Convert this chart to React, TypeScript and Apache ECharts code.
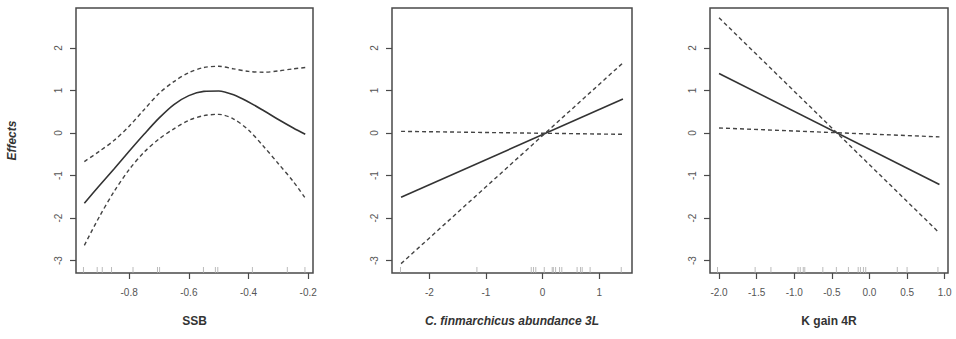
import React, { useEffect, useRef } from "react";
import * as echarts from "echarts";

// Panel 1: SSB
const ssbX = [-0.95, -0.9, -0.85, -0.8, -0.75, -0.7, -0.65, -0.6, -0.55, -0.5, -0.45, -0.4, -0.35, -0.3, -0.25, -0.21];
const ssbFit = [-1.65, -1.24, -0.84, -0.43, -0.03, 0.35, 0.67, 0.88, 0.98, 0.99, 0.9, 0.73, 0.53, 0.32, 0.12, -0.03];
const ssbUpper = [-0.67, -0.43, -0.17, 0.16, 0.55, 0.93, 1.21, 1.42, 1.54, 1.57, 1.51, 1.45, 1.43, 1.46, 1.51, 1.54];
const ssbLower = [-2.64, -1.97, -1.37, -0.86, -0.45, -0.14, 0.1, 0.3, 0.41, 0.44, 0.33, 0.07, -0.31, -0.72, -1.14, -1.53];
const ssbRug = [-0.953, -0.907, -0.89, -0.859, -0.787, -0.705, -0.698, -0.551, -0.511, -0.503, -0.387, -0.27, -0.211];
const ssbTicks = [-0.8, -0.6, -0.4, -0.2];

// Panel 2: C. finmarchicus abundance 3L
const calX = [-2.5, 1.42];
const calFit = [-1.51, 0.8];
const calUpper = [-3.07, 1.65];
const calLower = [0.04, -0.03];
const calRug = [-2.51, -1.16, -0.2, -0.16, -0.12, 0.03, 0.17, 0.19, 0.23, 0.3, 0.34, 0.61, 0.67, 0.7, 0.84, 1.39];
const calTicks = [-2, -1, 0, 1];

// Panel 3: K gain 4R
const kX = [-2.0, 0.93];
const kFit = [1.4, -1.21];
const kUpper = [2.71, -2.35];
const kLower = [0.12, -0.09];
const kRug = [-2.02, -1.52, -1.31, -0.95, -0.92, -0.88, -0.86, -0.62, -0.44, -0.28, -0.15, -0.12, -0.08, -0.05, 0.37, 0.5, 0.91];
const kTicks = [-2.0, -1.5, -1.0, -0.5, 0.0, 0.5, 1.0];

const yTicks = [-3, -2, -1, 0, 1, 2];
const yMin = -3.29;
const yMax = 2.94;

const FONT = "Liberation Sans, Arial, sans-serif";
const FRAME = "#4a4a4a";
const LABEL = "#555";

function pairs(xs: number[], ys: number[]) {
  return xs.map((x, i) => [x, ys[i]]);
}

export default function App() {
  const ref = useRef<HTMLDivElement>(null);
  useEffect(() => {
    if (!ref.current) return;
    const chart = echarts.init(ref.current, undefined, { renderer: "svg" });

    const grids = [
      { left: 76, top: 8, width: 237, height: 265 },
      { left: 392, top: 8, width: 240, height: 265 },
      { left: 710, top: 8, width: 238, height: 265 },
    ].map((g) => ({ ...g, show: true, borderColor: FRAME, borderWidth: 1.5, backgroundColor: "transparent" }));

    const xDefs = [
      { min: -0.978, max: -0.184, ticks: ssbTicks, name: "SSB", italic: false, fmt: (v: number) => v.toFixed(1) },
      { min: -2.66, max: 1.58, ticks: calTicks, name: "C. finmarchicus abundance 3L", italic: true, fmt: (v: number) => String(v) },
      { min: -2.12, max: 1.044, ticks: kTicks, name: "K gain 4R", italic: false, fmt: (v: number) => v.toFixed(1) },
    ];

    const xAxis = xDefs.map((d, i) => ({
      type: "value",
      gridIndex: i,
      position: "bottom",
      min: d.min,
      max: d.max,
      name: d.name,
      nameLocation: "middle",
      nameGap: 42,
      nameTextStyle: { fontFamily: FONT, fontSize: 12, fontWeight: "bold", fontStyle: d.italic ? "italic" : "normal", color: "#333" },
      axisLine: { show: false, onZero: false },
      splitLine: { show: false },
      axisTick: { show: true, length: 6, lineStyle: { color: FRAME, width: 1.2 }, customValues: d.ticks },
      axisLabel: { show: true, margin: 14, fontFamily: FONT, fontSize: 10, color: LABEL, customValues: d.ticks, formatter: (v: number) => d.fmt(v) },
    }));

    const yAxis = [0, 1, 2].map((i) => ({
      type: "value",
      gridIndex: i,
      position: "left",
      min: yMin,
      max: yMax,
      name: i === 0 ? "Effects" : "",
      nameLocation: "middle",
      nameGap: 58,
      nameRotate: 90,
      nameTextStyle: { fontFamily: FONT, fontSize: 12, fontWeight: "bold", fontStyle: "italic", color: "#333" },
      axisLine: { show: false, onZero: false },
      splitLine: { show: false },
      axisTick: { show: true, length: 6, lineStyle: { color: FRAME, width: 1.2 }, customValues: yTicks },
      axisLabel: { show: true, rotate: 90, margin: 13, fontFamily: FONT, fontSize: 10, color: LABEL, customValues: yTicks, formatter: (v: number) => String(v) },
    }));

    const lineSeries = (idx: number, xs: number[], ys: number[], dashed: boolean, smooth: boolean) => ({
      type: "line",
      xAxisIndex: idx,
      yAxisIndex: idx,
      data: pairs(xs, ys),
      smooth: smooth ? 0.3 : false,
      showSymbol: false,
      symbol: "none",
      lineStyle: dashed
        ? { color: "#444", width: 1.4, type: [4, 3] }
        : { color: "#333", width: 1.6, type: "solid" },
    });

    const rugSeries = (idx: number, vals: number[]) => ({
      type: "scatter",
      xAxisIndex: idx,
      yAxisIndex: idx,
      clip: false,
      data: vals.map((v) => [v, yMin]),
      symbol: "rect",
      symbolSize: [1, 6],
      symbolOffset: [0, -3],
      itemStyle: { color: "#aaa" },
      silent: true,
    });

    chart.setOption({
      animation: false,
      backgroundColor: "#fff",
      grid: grids,
      xAxis,
      yAxis,
      series: [
        lineSeries(0, ssbX, ssbFit, false, true),
        lineSeries(0, ssbX, ssbUpper, true, true),
        lineSeries(0, ssbX, ssbLower, true, true),
        rugSeries(0, ssbRug),
        lineSeries(1, calX, calFit, false, false),
        lineSeries(1, calX, calUpper, true, false),
        lineSeries(1, calX, calLower, true, false),
        rugSeries(1, calRug),
        lineSeries(2, kX, kFit, false, false),
        lineSeries(2, kX, kUpper, true, false),
        lineSeries(2, kX, kLower, true, false),
        rugSeries(2, kRug),
      ],
    });
    return () => chart.dispose();
  }, []);

  return (
    <div
      ref={ref}
      style={{ position: "fixed", left: 0, top: 0, width: 956, height: 339, background: "#fff" }}
    />
  );
}
